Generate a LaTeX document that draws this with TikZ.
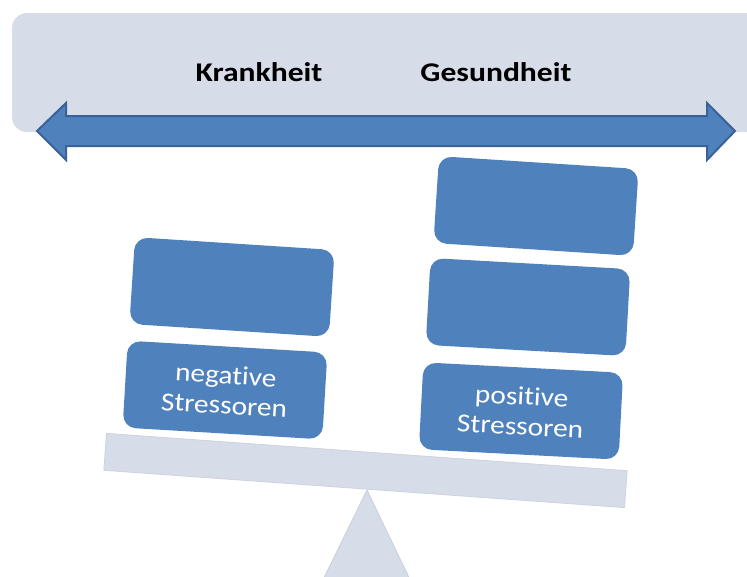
\documentclass[tikz,border=0pt]{standalone}
\usepackage{fontspec}
\setmainfont[Ligatures=NoCommon]{Carlito}
\newfontfamily\headfont[Ligatures=NoCommon,FakeStretch=1.17]{Carlito}
\newfontfamily\blockfont[Ligatures=NoCommon,FakeStretch=1.13]{Carlito}
\definecolor{bandgray}{HTML}{D6DCE8}
\definecolor{blockblue}{HTML}{4F81BD}
\definecolor{darkblue}{HTML}{3B6296}
\begin{document}
\begin{tikzpicture}[x=1pt,y=-1pt,
  block/.style={fill=blockblue, rounded corners=13pt, minimum width=200pt, minimum height=87pt, inner sep=0pt, text=white, align=center, font=\blockfont\fontsize{26}{30}\selectfont},
  head/.style={font=\headfont\bfseries\fontsize{27}{30}\selectfont, text=black}]
\useasboundingbox (0,0) rectangle (747,576);
\clip (0,0) rectangle (747,576);
% top band
\fill[bandgray, rounded corners=15pt] (12,13) rectangle (780,132);
\node[head] (krank) at (259,72) {Krankheit};
\node[head] (gesund) at (496,72) {Gesundheit};
% double arrow
\filldraw[fill=blockblue, draw=darkblue, line width=2pt, line join=miter]
  (37,131) -- (66,103) -- (66,116) -- (707,116) -- (707,103) -- (735,131)
  -- (707,160) -- (707,146) -- (66,146) -- (66,160) -- cycle;
% fulcrum
\fill[bandgray, draw=bandgray!85!gray, line width=0.8pt] (367,490) -- (415,590) -- (318,590) -- cycle;
% beam
\node[fill=bandgray, draw=bandgray!90!gray, line width=0.8pt, minimum width=522pt, minimum height=37pt, inner sep=0pt, rotate=-4.1] (beam) at (365.5,470.5) {};
% blocks
\node[block, rotate=-3.7] (lt) at (232,287) {};
\node[block, rotate=-3.4] (lb) at (225,390) {negative\\Stressoren};
\node[block, rotate=-3.7] (rt) at (536,206) {};
\node[block, rotate=-3.2] (rm) at (528,307) {};
\node[block, rotate=-3.0] (rb) at (521,411) {positive\\Stressoren};
\end{tikzpicture}
\end{document}
